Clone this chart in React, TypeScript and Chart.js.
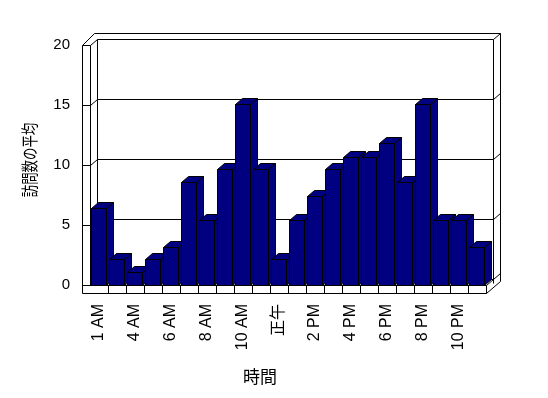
import React, { useEffect, useRef } from 'react';
import { Chart, registerables } from 'chart.js';

Chart.register(...registerables);

const hours = [
  '1 AM', '2 AM', '4 AM', '5 AM', '6 AM', '7 AM', '8 AM', '9 AM', '10 AM', '11 AM', '正午',
  '1 PM', '2 PM', '3 PM', '4 PM', '5 PM', '6 PM', '7 PM', '8 PM', '9 PM', '10 PM', '11 PM',
];
const visits = [
  6.4, 2.15, 1.05, 2.15, 3.2, 8.55, 5.4, 9.65, 15.05, 9.65, 2.15,
  5.4, 7.45, 9.65, 10.7, 10.7, 11.8, 8.55, 15.05, 5.4, 5.4, 3.2,
];
const yMin = 0;
const yMax = 20;
const yStep = 5;
const xTitle = '時間';
const yTitle = '訪問数の平均';

const DX = 7;
const DY = -6;
const NAVY = '#000080';
const FONT = '"Liberation Sans", "Noto Sans CJK JP", sans-serif';
const CJK = '"Noto Sans CJK JP", sans-serif';

function line(ctx: CanvasRenderingContext2D, pts: number[][]) {
  ctx.beginPath();
  pts.forEach(([x, y], i) => {
    if (i === 0) ctx.moveTo(x + 0.5, y + 0.5);
    else ctx.lineTo(x + 0.5, y + 0.5);
  });
  ctx.stroke();
}

function poly(ctx: CanvasRenderingContext2D, pts: number[][]) {
  ctx.beginPath();
  pts.forEach(([x, y], i) => {
    if (i === 0) ctx.moveTo(x + 0.5, y + 0.5);
    else ctx.lineTo(x + 0.5, y + 0.5);
  });
  ctx.closePath();
  ctx.fill();
  ctx.stroke();
}

const frame3d = {
  id: 'frame3d',
  beforeDatasetsDraw(chart: any) {
    const ctx = chart.ctx as CanvasRenderingContext2D;
    const ca = chart.chartArea;
    const ys = chart.scales.y;
    const xs = chart.scales.x;
    const L = Math.round(ca.left);
    const R = Math.round(ca.right);
    const T = Math.round(ca.top);
    const B = Math.round(ca.bottom);
    const SW = 8;
    const XO = L - SW;
    ctx.save();
    ctx.strokeStyle = '#000';
    ctx.lineWidth = 1;
    // back wall inner face
    line(ctx, [[L + DX, T + DY], [R + DX, T + DY]]);
    line(ctx, [[L + DX, T + DY], [L + DX, B + DY]]);
    line(ctx, [[R + DX, T + DY], [R + DX, B + DY + 4]]);
    // back wall top thickness
    line(ctx, [[XO, T], [XO + 12, T + 2 * DY], [R + 2 * DX, T + 2 * DY], [R + 2 * DX, B + SW + 2 * DY]]);
    line(ctx, [[R + DX, T + DY], [R + 2 * DX, T + 2 * DY]]);
    // left wall front strip
    line(ctx, [[XO, T], [L, T]]);
    line(ctx, [[XO, T], [XO, B + SW]]);
    line(ctx, [[L, T], [L, B]]);
    line(ctx, [[L, T], [L + DX, T + DY]]);
    // floor strip
    line(ctx, [[XO, B], [R, B]]);
    line(ctx, [[XO, B + SW], [R, B + SW]]);
    line(ctx, [[R, B], [R, B + SW]]);
    line(ctx, [[R, B], [R + DX, B + DY]]);
    line(ctx, [[R, B + SW], [R + 2 * DX, B + SW + 2 * DY]]);
    // grid lines on walls
    for (let v = yMin; v <= yMax - yStep; v += yStep) {
      const y = Math.round(ys.getPixelForValue(v));
      line(ctx, [[XO, y], [L, y], [L + DX, y + DY], [R + DX, y + DY], [R + 2 * DX, y + 2 * DY]]);
    }
    // category ticks on floor strip
    for (let i = 1; i < hours.length; i++) {
      const x = Math.round((xs.getPixelForValue(i - 1) + xs.getPixelForValue(i)) / 2);
      line(ctx, [[x, B], [x, B + SW]]);
    }
    ctx.restore();
  },
  afterDatasetsDraw(chart: any) {
    const ctx = chart.ctx as CanvasRenderingContext2D;
    const meta = chart.getDatasetMeta(0);
    ctx.save();
    ctx.strokeStyle = '#000';
    ctx.fillStyle = NAVY;
    ctx.lineWidth = 1;
    meta.data.forEach((el: any) => {
      const p = el.getProps(['x', 'y', 'base', 'width'], true);
      const l = Math.floor(p.x - p.width / 2);
      const r = l + Math.round(p.width);
      const t = Math.round(p.y);
      const b = Math.round(p.base);
      poly(ctx, [[r, t], [r + DX, t + DY], [r + DX, b + DY], [r, b]]);
      poly(ctx, [[l, t], [r, t], [r + DX, t + DY], [l + DX, t + DY]]);
      poly(ctx, [[l, t], [r, t], [r, b], [l, b]]);
    });
    ctx.restore();
  },
  afterDraw(chart: any) {
    const ctx = chart.ctx as CanvasRenderingContext2D;
    ctx.save();
    ctx.fillStyle = '#000';
    ctx.textAlign = 'center';
    ctx.textBaseline = 'middle';
    ctx.font = `17px ${CJK}`;
    ctx.fillText(xTitle, 260, 377);
    ctx.translate(30, 160);
    ctx.rotate(-Math.PI / 2);
    ctx.scale(0.73, 1);
    ctx.fillText(yTitle, 0, 0);
    ctx.restore();
  },
};

export default function App() {
  const ref = useRef<HTMLCanvasElement>(null);
  useEffect(() => {
    document.body.style.margin = '0';
    const canvas = ref.current!;
    const chart = new Chart(canvas, {
      type: 'bar',
      data: {
        labels: hours,
        datasets: [
          {
            data: visits,
            backgroundColor: 'rgba(0,0,0,0)',
            borderWidth: 0,
            barPercentage: 15 / 18,
            categoryPercentage: 1,
          },
        ],
      },
      options: {
        responsive: false,
        animation: false,
        devicePixelRatio: 1,
        layout: { padding: { top: 45, right: 62, left: 0, bottom: 0 } },
        plugins: { legend: { display: false }, tooltip: { enabled: false } },
        scales: {
          x: {
            grid: { display: false, drawTicks: false },
            border: { display: false },
            ticks: {
              autoSkip: false,
              minRotation: 90,
              maxRotation: 90,
              padding: 19,
              color: '#000',
              font: { family: FONT, size: 16 },
              callback: (_v: any, i: number) => (i % 2 === 0 ? hours[i] : ''),
            },
            afterFit: (s: any) => {
              s.height = 113;
            },
          },
          y: {
            min: yMin,
            max: yMax,
            grid: { display: false, drawTicks: false },
            border: { display: false },
            ticks: {
              stepSize: yStep,
              padding: 20,
              color: '#000',
              font: { family: FONT, size: 15 },
            },
            afterFit: (s: any) => {
              s.width = 90;
            },
          },
        },
      },
      plugins: [frame3d],
    });
    return () => chart.destroy();
  }, []);
  return <canvas ref={ref} width={548} height={398} style={{ display: 'block', width: 548, height: 398 }} />;
}
